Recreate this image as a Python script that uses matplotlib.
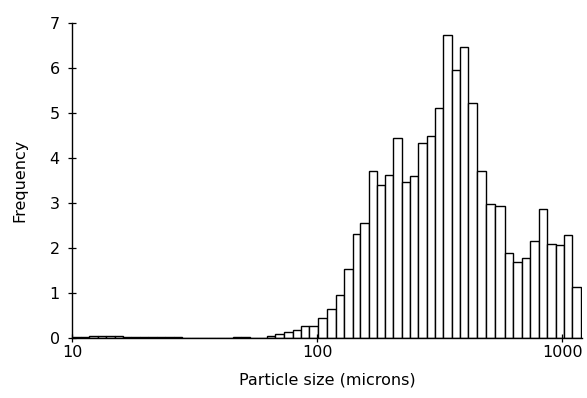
import numpy as np
import matplotlib
matplotlib.use("Agg")
from matplotlib import pyplot as plt
from matplotlib.ticker import FixedLocator, NullLocator

# size class boundaries (microns)
bin_edges = [10.0, 10.8, 11.7, 12.7, 13.7, 14.9, 16.1, 17.4, 18.9, 20.4,
             22.1, 23.9, 25.9, 28.1, 30.4, 32.9, 35.7, 38.6, 41.8, 45.3,
             49.0, 53.1, 57.5, 62.2, 67.4,
             73.0, 79.7, 85.4, 92.6, 100.8, 109.6, 119.0, 128.6, 139.2, 149.5,
             162.2, 174.4, 188.0, 202.6, 220.5, 238.4, 258.6, 278.9, 302.2, 326.1,
             352.7, 381.3, 413.6, 450.2, 489.8, 533.1, 581.6, 628.7, 684.2, 740.4,
             805.7, 868.6, 945.2, 1015.0, 1098.0, 1187.0]

# frequency in each size class
fine_freq = [0.03, 0.03, 0.065, 0.065, 0.065, 0.065, 0.04, 0.04, 0.035, 0.03,
             0.03, 0.03, 0.025, 0.015, 0.01, 0.01, 0.005, 0.005, 0.01, 0.03,
             0.03, 0.02, 0.01, 0.05, 0.10]
coarse_freq = [0.14, 0.19, 0.27, 0.27, 0.45, 0.66, 0.96, 1.55, 2.31, 2.55,
               3.71, 3.41, 3.63, 4.45, 3.47, 3.61, 4.34, 4.49, 5.10, 6.73,
               5.96, 6.47, 5.21, 3.71, 2.98, 2.93, 1.90, 1.69, 1.79, 2.17,
               2.86, 2.09, 2.08, 2.29, 1.15]
freq = fine_freq + coarse_freq

x_ticks = [10, 100, 1000]
x_labels = ["10", "100", "1000"]
y_ticks = [0, 1, 2, 3, 4, 5, 6, 7]

edges = np.array(bin_edges)

fig = plt.figure(figsize=(5.87, 3.98), dpi=100)
ax = fig.add_axes([0.1232, 0.1495, 0.868, 0.7935])

ax.bar(edges[:-1], freq, width=np.diff(edges), align="edge",
       color="white", edgecolor="black", linewidth=1.0)

ax.set_xscale("log")
ax.set_xlim(10, 1200)
ax.set_ylim(0, 7)

ax.xaxis.set_major_locator(FixedLocator(x_ticks))
ax.xaxis.set_minor_locator(NullLocator())
ax.set_xticklabels(x_labels)
ax.set_yticks(y_ticks)

for s in ["top", "right"]:
    ax.spines[s].set_visible(False)
for s in ["left", "bottom"]:
    ax.spines[s].set_linewidth(1.0)

ax.tick_params(axis="both", direction="inout", length=6, width=0.9,
               labelsize=11.5)
ax.tick_params(axis="x", pad=2)
ax.tick_params(axis="y", pad=6)

ax.set_xlabel("Particle size (microns)", fontsize=11.5, labelpad=9)
ax.set_ylabel("Frequency", fontsize=11.5, labelpad=16)

fig.savefig("out.png", dpi=100)
